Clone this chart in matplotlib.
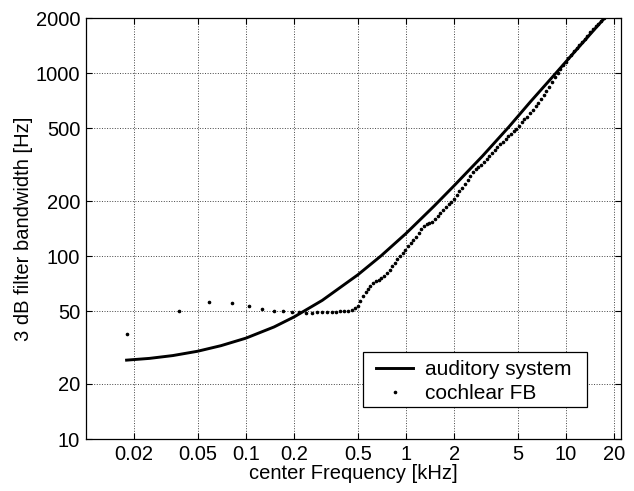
import matplotlib
matplotlib.use("Agg")
from matplotlib import pyplot as plt
from matplotlib.patches import Rectangle

plt.rcParams['font.family'] = ['Liberation Sans', 'DejaVu Sans']

# auditory system: 3 dB bandwidth vs centre frequency
aud_freq = [0.018, 0.025, 0.035, 0.05, 0.07, 0.1, 0.15, 0.2, 0.3, 0.5, 0.7,
            1.0, 1.5, 2.0, 3.0, 4.4, 6.0, 8.4, 12.0, 17.6, 20.0]
aud_bw = [27.0, 27.6, 28.6, 30.2, 32.4, 35.6, 41.0, 46.5, 57.3, 79.0, 100.5,
          133, 188, 243, 352, 510, 700, 975, 1390, 2030, 2300]

# cochlear filter bank channels
fb_freq = [0.018, 0.038, 0.059, 0.082, 0.104, 0.127, 0.149, 0.170, 0.193, 0.215,
           0.238, 0.258, 0.277, 0.300, 0.320, 0.343, 0.366, 0.390, 0.412, 0.435,
           0.458, 0.480, 0.50, 0.52, 0.54, 0.56, 0.58, 0.60, 0.625, 0.65,
           0.675, 0.70, 0.73, 0.76, 0.79, 0.82, 0.85, 0.885, 0.92, 0.955,
           0.99, 1.03, 1.07, 1.11, 1.15, 1.20, 1.25, 1.30, 1.35, 1.40,
           1.46, 1.52, 1.58, 1.64, 1.71, 1.78, 1.85, 1.92, 2.00, 2.08,
           2.16, 2.25, 2.34, 2.43, 2.53, 2.63, 2.73, 2.84, 2.95, 3.07,
           3.19, 3.32, 3.45, 3.59, 3.73, 3.88, 4.03, 4.19, 4.36, 4.53,
           4.71, 4.90, 5.10, 5.30, 5.50, 5.70, 5.95, 6.20, 6.45, 6.70,
           6.95, 7.25, 7.55, 7.85, 8.15, 8.50, 8.85, 9.20, 9.55, 9.95,
           10.35, 10.75, 11.20, 11.65, 12.10, 12.60, 13.10, 13.60, 14.15, 14.70,
           15.30, 15.90, 16.55, 17.20, 17.90]
fb_bw = [37.5, 50.3, 56.4, 55.3, 53.4, 51.4, 50.3, 50.3, 49.5, 49.2,
         49.0, 49.0, 49.2, 49.5, 49.6, 49.8, 49.8, 50.0, 50.0, 50.2,
         50.5, 52.0, 53.5, 57, 60.5, 63.5, 66, 68.5, 71, 73,
         74.5, 76, 78, 81, 84.5, 88, 92, 96, 100, 104,
         108, 113, 118, 123, 128, 134, 140, 146, 150, 152,
         154, 159, 166, 172, 179, 186, 192, 198, 206, 216,
         226, 237, 249, 261, 274, 289, 300, 306, 316, 328,
         340, 353, 366, 380, 394, 409, 423, 438, 453, 468,
         483, 498, 518, 540, 560, 580, 605, 632, 660, 690,
         720, 760, 800, 845, 895, 950, 1010, 1060, 1110, 1160,
         1210, 1260, 1320, 1375, 1430, 1490, 1550, 1610, 1675, 1740,
         1805, 1870, 1945, 2020, 2100]

xticks = [0.02, 0.05, 0.1, 0.2, 0.5, 1, 2, 5, 10, 20]
xticklabels = ['0.02', '0.05', '0.1', '0.2', '0.5', '1', '2', '5', '10', '20']
yticks = [10, 20, 50, 100, 200, 500, 1000, 2000]
yticklabels = ['10', '20', '50', '100', '200', '500', '1000', '2000']

fig = plt.figure(figsize=(6.34, 4.91), dpi=100)
ax = fig.add_axes([0.1352, 0.1059, 0.8443, 0.8568])

ax.plot(aud_freq, aud_bw, color='black', linewidth=2.1, label='auditory system')
ax.plot(fb_freq, fb_bw, linestyle='none', marker='.', markersize=3.2,
        color='black', label='cochlear FB')

ax.set_xscale('log')
ax.set_yscale('log')
ax.set_xlim(0.01, 22.05)
ax.set_ylim(10, 2000)

ax.set_xticks(xticks)
ax.set_xticklabels(xticklabels)
ax.set_yticks(yticks)
ax.set_yticklabels(yticklabels)
ax.minorticks_off()
ax.tick_params(which='major', direction='in', length=4, width=0.8,
               top=True, right=True, labelsize=14.5, pad=4)
ax.grid(True, linestyle=':', color='#444444', linewidth=0.7)
for sp in ax.spines.values():
    sp.set_linewidth(0.9)

ax.set_xlabel('center Frequency [kHz]', fontsize=14.5, labelpad=0)
ax.set_ylabel('3 dB filter bandwidth [Hz]', fontsize=14.5, labelpad=2)

# legend box drawn separately so its padding can be wider than the text rows
ax.add_patch(Rectangle((0.5186, 0.0768), 0.4174, 0.1293, transform=ax.transAxes,
                       facecolor='white', edgecolor='black', linewidth=0.9,
                       zorder=4.5))
leg = ax.legend(loc='center', bbox_to_anchor=(0.7245, 0.1367),
                borderaxespad=0, borderpad=0, frameon=False, fontsize=15,
                handlelength=1.8, handletextpad=0.55, labelspacing=0.25)

fig.savefig('out.png', dpi=100)
